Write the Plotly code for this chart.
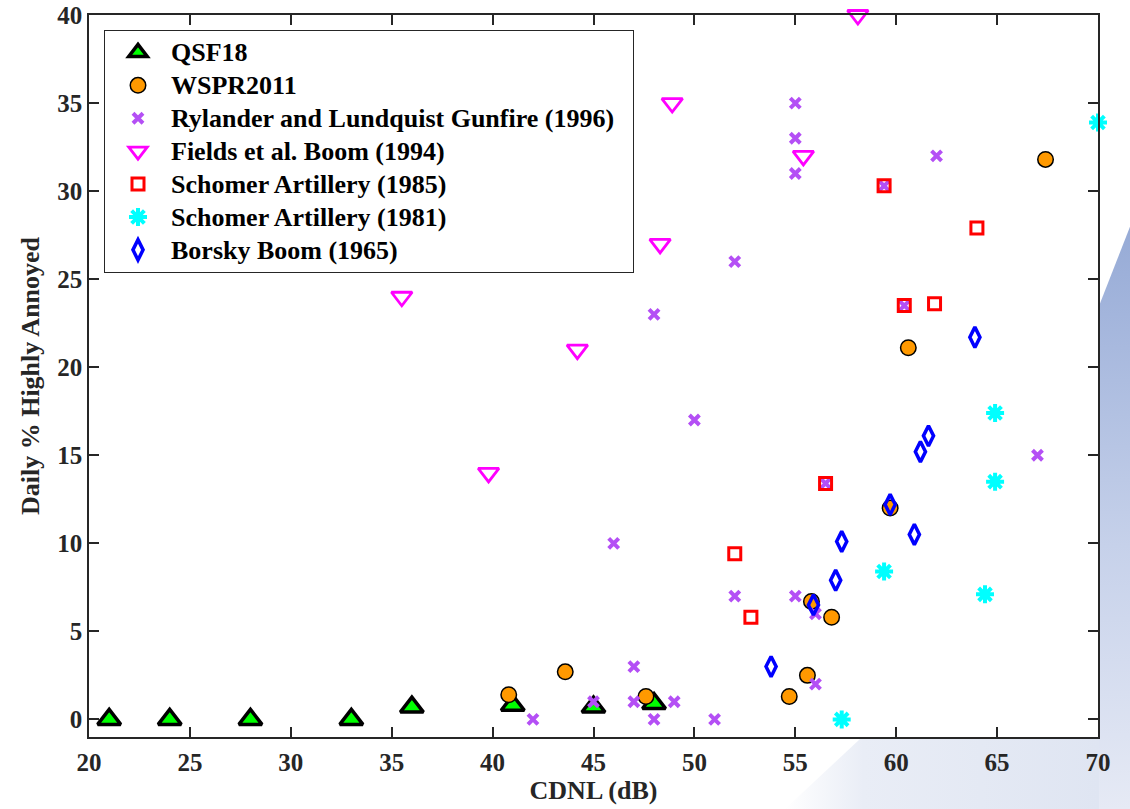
import base64
import plotly.graph_objects as go

# ---- data: CDNL (dB) vs daily % highly annoyed ----
qsf18_x = [21, 24, 28, 33, 36, 41, 45, 48]
qsf18_y = [0, 0, 0, 0, 0.7, 0.8, 0.7, 0.9]

wspr_x = [40.8, 43.6, 47.6, 54.7, 55.6, 55.8, 56.8, 59.7, 60.6, 67.4]
wspr_y = [1.4, 2.7, 1.3, 1.3, 2.5, 6.7, 5.8, 12.0, 21.1, 31.8]

rylander_x = [55, 55, 55, 62, 52, 48, 50, 46, 67, 52, 55, 56, 56, 47, 47, 49, 45,
              42, 48, 51, 56.5, 59.4, 60.4]
rylander_y = [35, 33, 31, 32, 26, 23, 17, 10, 15, 7, 7, 6, 2, 3, 1, 1, 1,
              0, 0, 0, 13.4, 30.3, 23.5]

fields_x = [35.5, 39.8, 44.2, 48.3, 48.9, 55.4, 58.1]
fields_y = [24, 14, 21, 27, 35, 32, 40]

schomer85_x = [52.0, 52.8, 56.5, 59.4, 60.4, 61.9, 64.0]
schomer85_y = [9.4, 5.8, 13.4, 30.3, 23.5, 23.6, 27.9]

schomer81_x = [70.0, 59.4, 64.4, 57.3, 64.9, 64.9]
schomer81_y = [33.9, 8.4, 7.1, 0.0, 13.5, 17.4]

borsky_x = [53.8, 55.9, 57.0, 57.3, 60.9, 59.7, 61.2, 61.6, 63.9]
borsky_y = [3.0, 6.5, 7.9, 10.1, 10.5, 12.2, 15.2, 16.1, 21.7]

FONT = "Liberation Serif"
INK = "#262626"


def entry(label, pad=0):
    """Legend label at 26px inside a tighter 23px legend row."""
    return '<span style="font-size:26px">' + label + "\u00a0" * pad + "</span>"


fig = go.Figure()

fig.add_trace(go.Scatter(
    x=qsf18_x, y=qsf18_y, mode="markers", name=entry("QSF18"), cliponaxis=False,
    marker=dict(symbol="triangle-up", size=20, color="#00ff00",
                line=dict(color="black", width=3.5))))

fig.add_trace(go.Scatter(
    x=wspr_x, y=wspr_y, mode="markers", name=entry("WSPR2011"), cliponaxis=False,
    marker=dict(symbol="circle", size=15.5, color="#ff9900",
                line=dict(color="black", width=1.5))))

fig.add_trace(go.Scatter(
    x=rylander_x, y=rylander_y, mode="markers", cliponaxis=False,
    name=entry("Rylander and Lundquist Gunfire (1996)", pad=2),
    marker=dict(symbol="x-thin", size=10, color="#b44ff5",
                line=dict(color="#b44ff5", width=4))))

fig.add_trace(go.Scatter(
    x=fields_x, y=fields_y, mode="markers", name=entry("Fields et al. Boom (1994)"),
    cliponaxis=False,
    marker=dict(symbol="triangle-down-open", size=18, color="#ff00ff",
                line=dict(color="#ff00ff", width=2.8))))

fig.add_trace(go.Scatter(
    x=schomer85_x, y=schomer85_y, mode="markers", name=entry("Schomer Artillery (1985)"),
    cliponaxis=False,
    marker=dict(symbol="square-open", size=12, color="#ff0000",
                line=dict(color="#ff0000", width=3))))

fig.add_trace(go.Scatter(
    x=schomer81_x, y=schomer81_y, mode="markers", name=entry("Schomer Artillery (1981)"),
    cliponaxis=False,
    marker=dict(symbol="asterisk-open", size=15, color="#00ffff",
                line=dict(color="#00ffff", width=4))))

fig.add_trace(go.Scatter(
    x=borsky_x, y=borsky_y, mode="markers", name=entry("Borsky Boom (1965)"),
    cliponaxis=False,
    marker=dict(symbol="diamond-tall-open", size=14.5, color="#0000ff",
                line=dict(color="#0000ff", width=3.5))))

# soft blue slide backdrop outside the axes, right and bottom-right edges
W, H = 1130, 809
svg = f"""<svg xmlns='http://www.w3.org/2000/svg' width='{W}' height='{H}' viewBox='0 0 {W} {H}'>
<defs>
<linearGradient id='g' x1='0' y1='0' x2='0' y2='1'>
<stop offset='0' stop-color='#8ba1d0'/>
<stop offset='0.25' stop-color='#a3b5dc'/>
<stop offset='0.6' stop-color='#c6d1ea'/>
<stop offset='1' stop-color='#e6eaf5'/>
</linearGradient>
<linearGradient id='h' x1='0' y1='0' x2='1' y2='0'>
<stop offset='0' stop-color='#ffffff'/>
<stop offset='0.25' stop-color='#e9edf6'/>
<stop offset='1' stop-color='#dfe5f2'/>
</linearGradient>
</defs>
<path d='M1160,150 L1099,306 L1099,809 L1200,809 L1200,150 Z' fill='url(#g)'/>
<path d='M860,739 L1099,739 L1099,809 L785,809 Z' fill='url(#h)'/>
</svg>"""
src = "data:image/svg+xml;base64," + base64.b64encode(svg.encode()).decode()

L, R, T, B = 89, 32, 15, 72
pw, ph = W - L - R, H - T - B
fig.add_layout_image(dict(
    source=src, xref="paper", yref="paper",
    x=-L / pw, y=1 + T / ph, sizex=W / pw, sizey=H / ph,
    xanchor="left", yanchor="top", sizing="stretch", layer="below"))

axis_common = dict(
    showline=True, mirror="ticks", linecolor=INK, linewidth=1.5,
    ticks="inside", ticklen=10, tickwidth=1.5, tickcolor=INK,
    showgrid=False, zeroline=False, automargin=False,
    tickfont=dict(family=FONT, size=25, color=INK, weight="bold"),
)

fig.update_layout(
    width=W, height=H,
    margin=dict(l=L, r=R, t=T, b=B, pad=0, autoexpand=False),
    paper_bgcolor="rgba(0,0,0,0)", plot_bgcolor="white",
    xaxis=dict(range=[20, 70], tickmode="linear", tick0=20, dtick=5,
               ticklabelstandoff=2,
               title=dict(text="CDNL (dB)", standoff=6,
                          font=dict(family=FONT, size=26, color=INK, weight="bold")),
               **axis_common),
    yaxis=dict(range=[-1, 40], tickmode="linear", tick0=0, dtick=5,
               title=dict(text="Daily % Highly Annoyed", standoff=10,
                          font=dict(family=FONT, size=26, color=INK, weight="bold")),
               **axis_common),
    legend=dict(x=(104 - L) / pw, y=(H - B - 30) / ph, xanchor="left", yanchor="top",
                bgcolor="white", bordercolor=INK, borderwidth=1,
                itemwidth=56, tracegroupgap=0,
                font=dict(family=FONT, size=23, color="black", weight="bold")),
    showlegend=True,
)

fig.write_html("out.html")
